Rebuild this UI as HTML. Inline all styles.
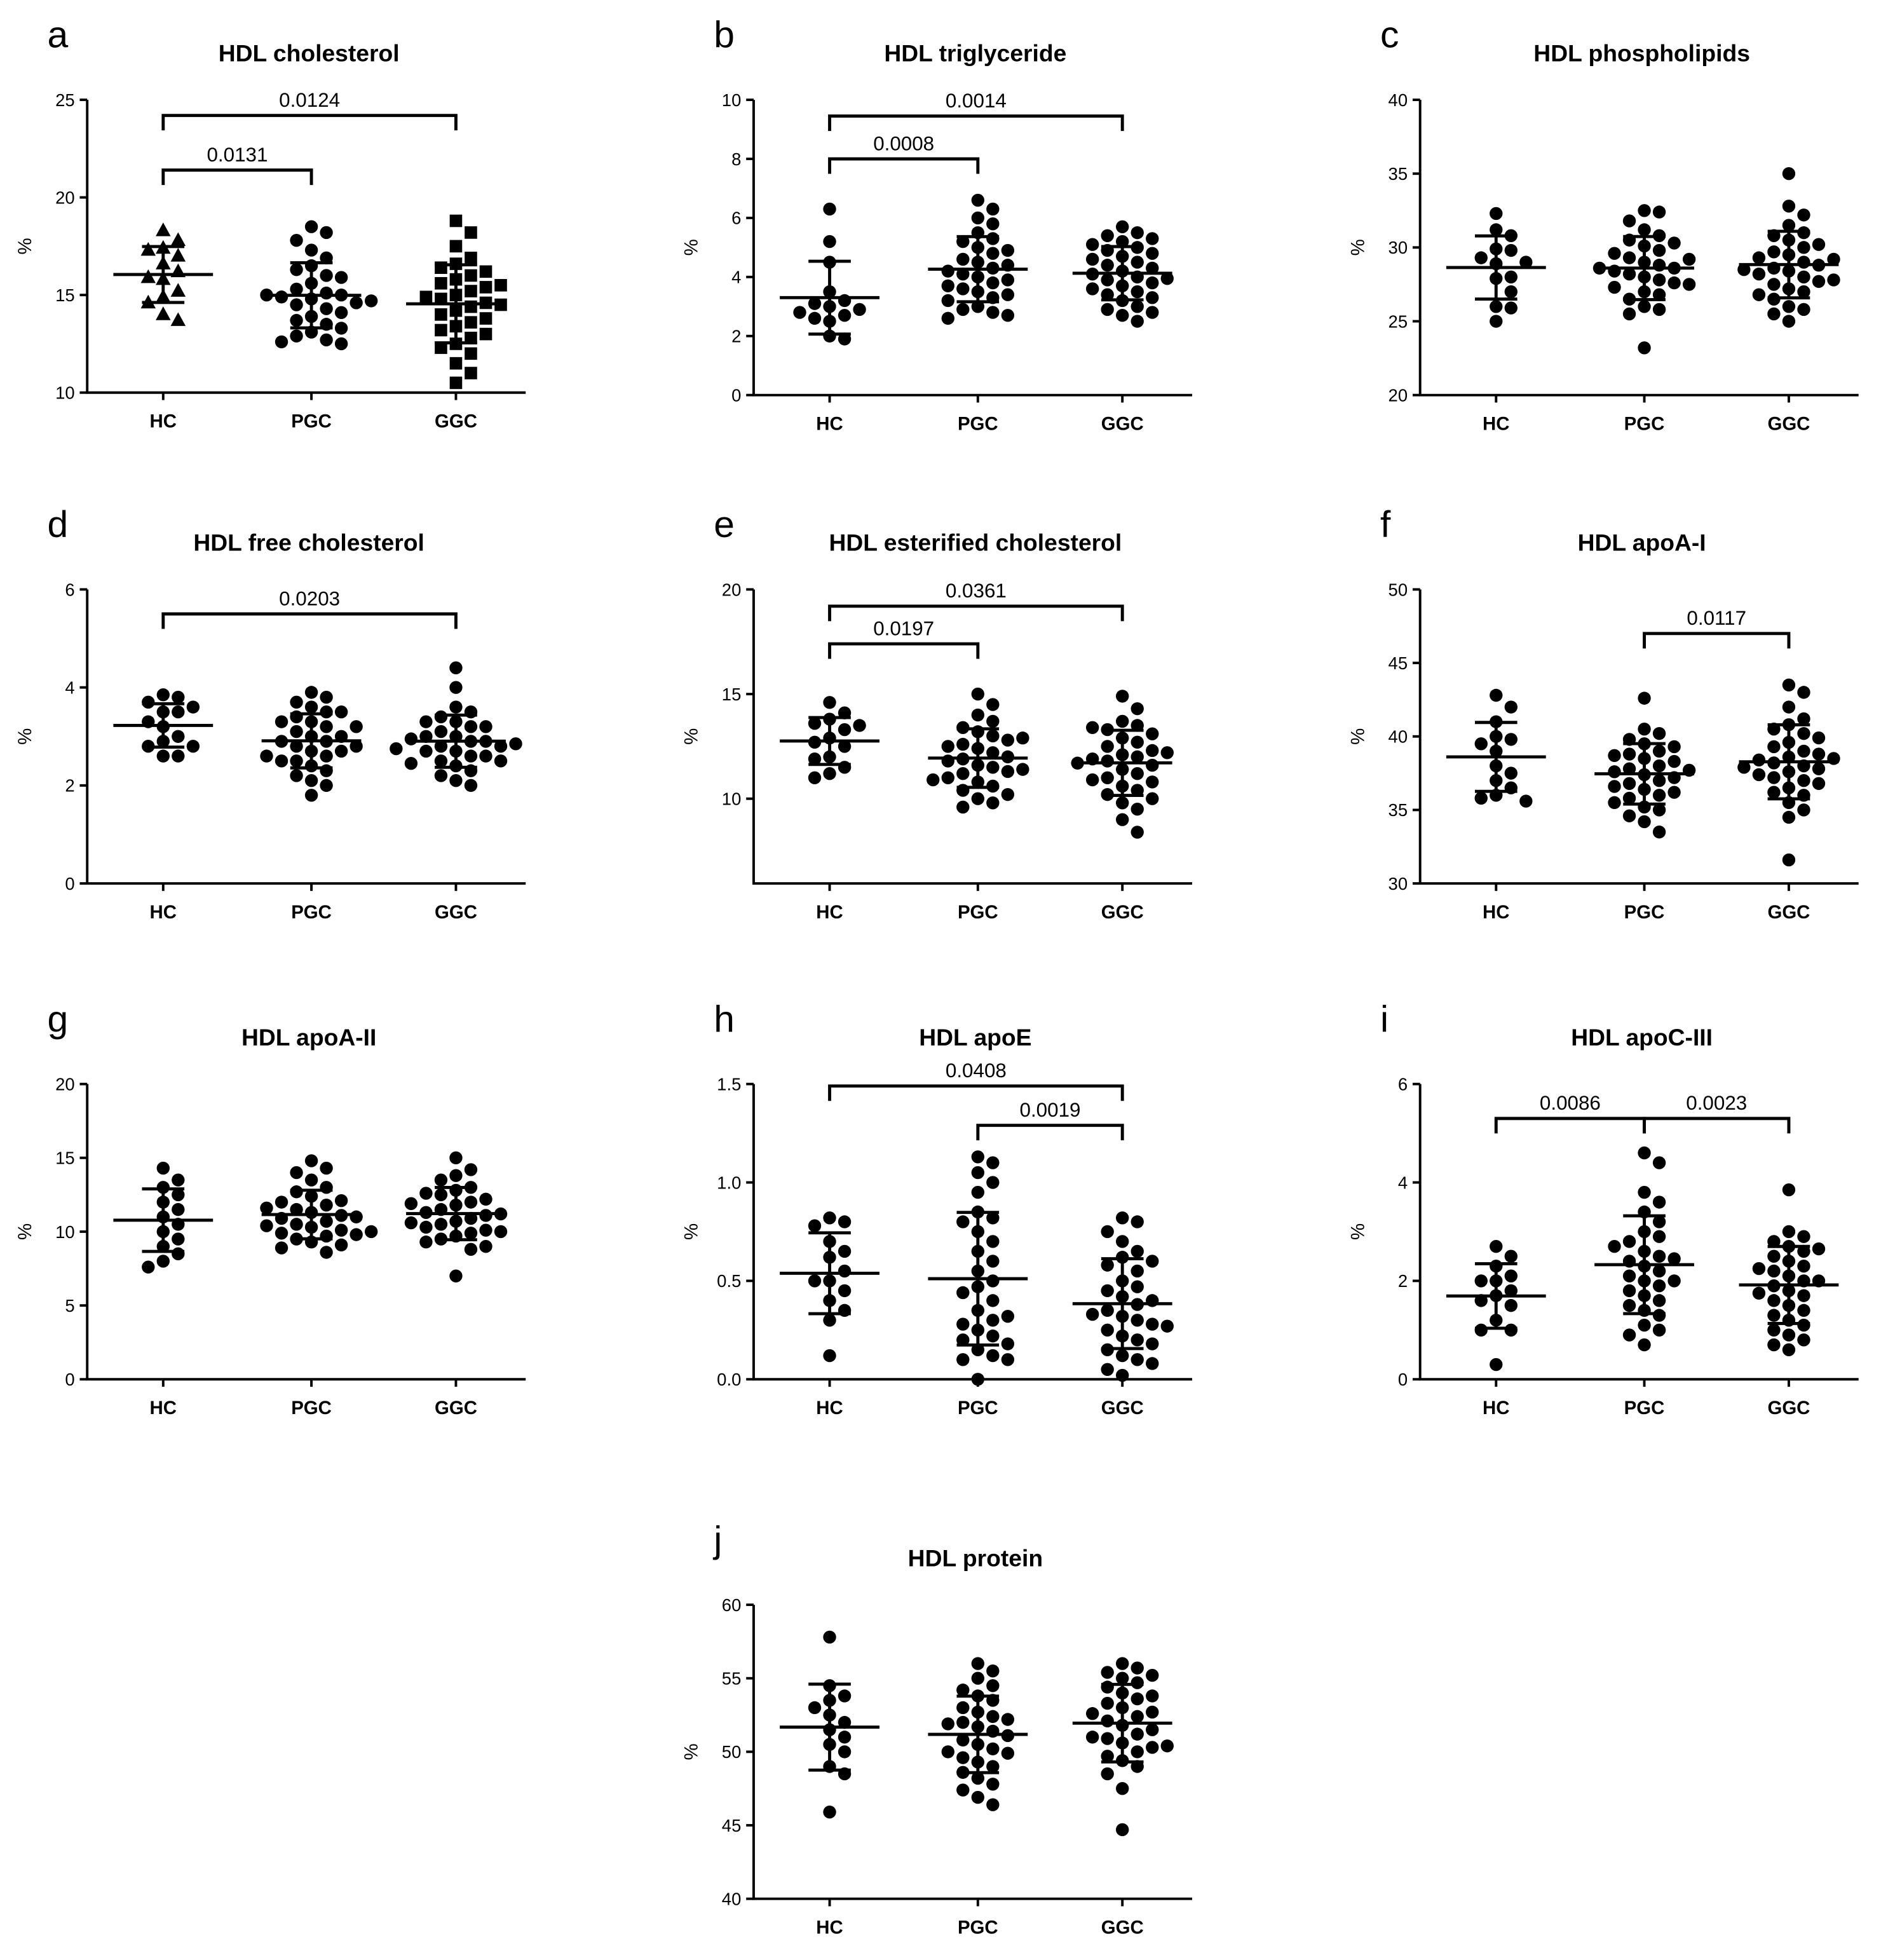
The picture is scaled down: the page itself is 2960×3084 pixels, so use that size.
<!DOCTYPE html>
<html><head><meta charset="utf-8"><style>
html,body{margin:0;padding:0;background:#fff}
svg{display:block;font-family:"Liberation Sans",Arial,sans-serif}
</style></head><body>
<svg id="fig" width="2960" height="3084" viewBox="0 0 1510 1573" xmlns="http://www.w3.org/2000/svg"></svg>
<script>
const categories = ["HC","PGC","GGC"];
// panel a
const aHC=[18.3,17.8,17.4,17.3,17.0,16.6,16.2,15.9,15.8,15.2,14.9,14.6,14.0,13.7];
const aPGC=[18.5,18.2,17.8,17.3,16.9,16.5,16.3,16.0,15.9,15.6,15.3,15.1,15.0,14.9,14.8,14.6,14.5,14.3,14.1,13.9,13.7,13.5,13.3,13.1,12.9,12.7,12.6,12.5,15.0,14.7];
const aGGC=[18.8,18.2,17.5,16.9,16.6,16.4,16.2,16.0,15.8,15.6,15.4,15.2,15.0,14.9,14.8,14.6,14.4,14.2,14.0,13.8,13.6,13.4,13.2,13.0,12.8,12.5,12.3,12.0,11.5,11.0,10.5,15.5,14.5];
// panel b
const bHC=[6.3,5.2,4.5,3.5,3.2,3.1,3.0,2.9,2.8,2.7,2.6,2.5,2.0,1.9];
const bPGC=[6.6,6.3,6.0,5.8,5.5,5.3,5.2,5.0,4.9,4.8,4.6,4.5,4.4,4.3,4.2,4.1,4.0,3.9,3.8,3.7,3.6,3.5,3.4,3.3,3.2,3.0,2.9,2.8,2.7,2.6];
const bGGC=[5.7,5.5,5.4,5.3,5.2,5.0,4.9,4.8,4.7,4.5,4.4,4.3,4.2,4.1,4.0,3.9,3.8,3.7,3.6,3.5,3.4,3.3,3.2,3.0,2.9,2.8,2.7,2.5,5.1,4.6,3.95];
// panel c
const cHC=[32.3,31.2,30.8,29.9,29.8,29.3,29.0,28.9,28.0,27.9,27.0,26.0,25.9,25.0];
const cPGC=[32.5,32.4,31.8,31.2,30.8,30.5,30.3,30.1,29.8,29.6,29.3,29.0,28.8,28.6,28.4,28.2,28.0,27.8,27.6,27.3,27.0,26.8,26.5,26.0,25.8,25.5,23.2,29.2,28.6,27.5];
const cGGC=[35.0,32.8,32.2,31.5,31.0,30.8,30.5,30.2,30.0,29.7,29.5,29.3,29.0,28.8,28.6,28.4,28.2,28.0,27.7,27.5,27.2,27.0,26.8,26.5,26.0,25.8,25.5,25.0,29.2,28.5,27.8];
// panel d
const dHC=[3.85,3.8,3.7,3.6,3.5,3.5,3.3,3.2,3.0,2.9,2.8,2.8,2.6,2.6];
const dPGC=[3.9,3.8,3.7,3.6,3.5,3.5,3.4,3.3,3.3,3.2,3.1,3.0,3.0,2.9,2.9,2.8,2.8,2.7,2.7,2.6,2.5,2.5,2.4,2.3,2.2,2.1,2.0,1.8,3.2,2.6];
const dGGC=[4.4,4.0,3.6,3.5,3.4,3.3,3.2,3.2,3.1,3.0,3.0,2.9,2.9,2.8,2.8,2.7,2.7,2.6,2.6,2.5,2.5,2.4,2.3,2.2,2.1,2.0,3.3,2.95,2.85,2.45,2.75];
// panel e
const eHC=[14.6,14.1,13.8,13.6,13.5,13.3,12.9,12.7,12.5,12.0,11.9,11.5,11.2,11.0];
const ePGC=[15.0,14.5,14.0,13.7,13.4,13.2,13.0,12.8,12.6,12.4,12.2,12.0,11.9,11.8,11.6,11.5,11.3,11.2,11.0,10.8,10.6,10.4,10.2,10.0,9.8,9.6,12.5,11.4,10.9,12.9];
const eGGC=[14.9,14.3,13.7,13.5,13.3,13.1,12.9,12.7,12.5,12.3,12.1,12.0,11.9,11.8,11.6,11.4,11.2,11.0,10.8,10.6,10.4,10.2,10.0,9.8,9.5,9.0,8.4,13.4,12.2,11.7,10.9];
// panel f
const fHC=[42.8,42.0,41.0,40.0,39.8,39.5,39.0,38.0,37.5,37.0,36.5,36.0,35.8,35.6];
const fPGC=[42.6,40.5,40.2,39.8,39.5,39.3,39.0,38.8,38.5,38.3,38.0,37.8,37.6,37.4,37.2,37.0,36.8,36.6,36.4,36.2,36.0,35.8,35.5,35.2,35.0,34.6,34.2,33.5,38.7,37.7];
const fGGC=[43.5,43.0,42.0,41.2,40.8,40.5,40.2,39.9,39.6,39.3,39.0,38.8,38.6,38.4,38.2,38.0,37.8,37.6,37.4,37.2,37.0,36.8,36.5,36.2,36.0,35.5,35.0,34.5,31.6,38.5,37.9];
// panel g
const gHC=[14.3,13.5,13.0,12.5,12.0,11.5,11.0,10.5,10.0,9.5,9.0,8.5,8.0,7.6];
const gPGC=[14.8,14.3,14.0,13.5,13.0,12.7,12.4,12.1,11.8,11.5,11.3,11.1,10.9,10.7,10.5,10.3,10.1,9.9,9.7,9.5,9.3,9.1,8.9,8.6,12.0,11.0,10.4,9.8,11.6,10.0];
const gGGC=[15.0,14.2,13.8,13.5,13.0,12.8,12.5,12.2,12.0,11.8,11.5,11.3,11.1,10.9,10.7,10.5,10.3,10.1,9.9,9.7,9.5,9.3,9.0,8.8,7.0,12.6,11.2,10.0,11.9,10.6];
// panel h
const hHC=[0.82,0.8,0.78,0.7,0.65,0.62,0.55,0.5,0.5,0.45,0.4,0.35,0.3,0.12];
const hPGC=[1.13,1.1,1.05,1.0,0.95,0.85,0.82,0.75,0.7,0.65,0.6,0.55,0.5,0.47,0.44,0.4,0.35,0.3,0.28,0.25,0.22,0.2,0.18,0.15,0.12,0.1,0.1,0.0,0.8,0.32];
const hGGC=[0.82,0.8,0.75,0.7,0.65,0.62,0.58,0.55,0.5,0.47,0.45,0.42,0.4,0.38,0.35,0.32,0.3,0.28,0.25,0.22,0.2,0.18,0.15,0.12,0.1,0.08,0.05,0.02,0.6,0.33,0.27];
// panel i
const iHC=[2.7,2.5,2.3,2.1,2.0,2.0,1.8,1.7,1.6,1.5,1.2,1.0,1.0,0.3];
const iPGC=[4.6,4.4,3.8,3.6,3.4,3.2,3.0,2.9,2.8,2.6,2.5,2.4,2.3,2.2,2.1,2.0,1.9,1.8,1.7,1.6,1.5,1.4,1.3,1.1,1.0,0.9,0.7,2.45,2.0,2.7];
const iGGC=[3.85,3.0,2.9,2.8,2.7,2.6,2.5,2.4,2.3,2.2,2.1,2.0,2.0,1.9,1.8,1.7,1.6,1.5,1.4,1.3,1.2,1.1,1.0,0.9,0.8,0.7,0.6,2.65,2.25,1.75];
// panel j
const jHC=[57.8,54.5,53.8,53.5,53.0,52.5,52.0,51.5,51.0,50.5,50.0,49.0,48.5,45.9];
const jPGC=[56.0,55.5,55.0,54.5,54.2,53.8,53.5,53.0,52.7,52.4,52.0,51.7,51.4,51.1,50.8,50.5,50.2,49.9,49.6,49.3,49.0,48.6,48.2,47.8,47.4,46.9,46.4,52.2,50.0,51.9];
const jGGC=[56.0,55.7,55.4,55.0,54.7,54.4,54.0,53.6,53.3,53.0,52.7,52.4,52.1,51.8,51.5,51.2,50.9,50.6,50.3,50.0,49.7,49.4,49.0,48.5,47.5,44.7,53.8,52.6,51.0,50.4,55.2];

const aTicks=[10,15,20,25], bTicks=[0,2,4,6,8,10], cTicks=[20,25,30,35,40], dTicks=[0,2,4,6], eTicks=[10,15,20], fTicks=[30,35,40,45,50], gTicks=[0,5,10,15,20], hTicks=[0,0.5,1.0,1.5], iTicks=[0,2,4,6], jTicks=[40,45,50,55,60];
const hTickLabels=["0.0","0.5","1.0","1.5"];
// significance: [fromIdx,toIdx,level,label]
const aSig=[[0,1,21.4,"0.0131"],[0,2,24.2,"0.0124"]];
const bSig=[[0,1,8.0,"0.0008"],[0,2,9.45,"0.0014"]];
const dSig=[[0,2,5.5,"0.0203"]];
const eSig=[[0,1,17.4,"0.0197"],[0,2,19.2,"0.0361"]];
const fSig=[[1,2,47.0,"0.0117"]];
const hSig=[[0,2,1.49,"0.0408"],[1,2,1.29,"0.0019"]];
const iSig=[[0,1,5.3,"0.0086"],[1,2,5.3,"0.0023"]];

const panels=[
 {id:"a",title:"HDL cholesterol",ax:70,top:80,bot:315,min:10,max:25,ticks:aTicks,data:[aHC,aPGC,aGGC],sig:aSig,marks:["tri","circ","sq"]},
 {id:"b",title:"HDL triglyceride",ax:605,top:80,bot:317,min:0,max:10,ticks:bTicks,data:[bHC,bPGC,bGGC],sig:bSig},
 {id:"c",title:"HDL phospholipids",ax:1140,top:80,bot:317,min:20,max:40,ticks:cTicks,data:[cHC,cPGC,cGGC],sig:[]},
 {id:"d",title:"HDL free cholesterol",ax:70,top:473,bot:709,min:0,max:6,ticks:dTicks,data:[dHC,dPGC,dGGC],sig:dSig},
 {id:"e",title:"HDL esterified cholesterol",ax:605,top:473,bot:709,min:5.95,max:20,ticks:eTicks,data:[eHC,ePGC,eGGC],sig:eSig},
 {id:"f",title:"HDL apoA-I",ax:1140,top:473,bot:709,min:30,max:50,ticks:fTicks,data:[fHC,fPGC,fGGC],sig:fSig},
 {id:"g",title:"HDL apoA-II",ax:70,top:870,bot:1107,min:0,max:20,ticks:gTicks,data:[gHC,gPGC,gGGC],sig:[]},
 {id:"h",title:"HDL apoE",ax:605,top:870,bot:1107,min:0,max:1.5,ticks:hTicks,tickLabels:hTickLabels,data:[hHC,hPGC,hGGC],sig:hSig},
 {id:"i",title:"HDL apoC-III",ax:1140,top:870,bot:1107,min:0,max:6,ticks:iTicks,data:[iHC,iPGC,iGGC],sig:iSig},
 {id:"j",title:"HDL protein",ax:605,top:1288,bot:1524,min:40,max:60,ticks:jTicks,data:[jHC,jPGC,jGGC],sig:[]}
];
const NS="http://www.w3.org/2000/svg";
const svg=document.getElementById("fig");
function mk(tag,attrs,parent){const e=document.createElementNS(NS,tag);for(const k in attrs)e.setAttribute(k,attrs[k]);parent.appendChild(e);return e;}
const catOff=[61,180,296];
const R=5.2;
panels.forEach(p=>{
  const g=mk("g",{},svg);
  
  
  const y=v=>p.bot-(v-p.min)/(p.max-p.min)*(p.bot-p.top);
  const cx=i=>p.ax+catOff[i];
  // letter & title
  const L=mk("text",{x:p.ax-32,y:p.top-42,"font-size":30,fill:"#000"},g);L.textContent=p.id;
  
  
  const T=mk("text",{x:p.ax+178,y:p.top-31,"font-size":19,"font-weight":"bold","text-anchor":"middle",fill:"#000"},g);T.textContent=p.title;
  
  
  // axes
  const ya=mk("line",{x1:p.ax,y1:p.top,x2:p.ax,y2:p.bot,stroke:"#000","stroke-width":2},g);
  
  
  const xa=mk("line",{x1:p.ax-1,y1:p.bot,x2:p.ax+352,y2:p.bot,stroke:"#000","stroke-width":2},g);
  
  
  p.ticks.forEach((t,k)=>{
    mk("line",{x1:p.ax-6,y1:y(t),x2:p.ax,y2:y(t),stroke:"#000","stroke-width":2},g);
    const tl=mk("text",{x:p.ax-10,y:y(t)+5,"font-size":14,"text-anchor":"end",fill:"#000"},g);
    tl.textContent=p.tickLabels?p.tickLabels[k]:String(t);
    
    
  });
  const yt=mk("text",{x:0,y:0,"font-size":15,"text-anchor":"middle",transform:`translate(${p.ax-45},${(p.top+p.bot)/2}) rotate(-90)`,fill:"#000"},g);
  yt.textContent="%";
  
  
  categories.forEach((c,i)=>{
    mk("line",{x1:cx(i),y1:p.bot,x2:cx(i),y2:p.bot+6,stroke:"#000","stroke-width":2},g);
    const ct=mk("text",{x:cx(i),y:p.bot+28,"font-size":15,"font-weight":"bold","text-anchor":"middle",fill:"#000"},g);
    ct.textContent=c;
    
    
  });
  // points (beeswarm)
  p.data.forEach((arr,i)=>{
    const placed=[];
    const shape=p.marks?p.marks[i]:"circ";
    arr.forEach(v=>{
      const py=y(v);let px=cx(i);
      for(let k=0;k<40;k++){
        const off=(k===0?0:(k%2?1:-1)*Math.ceil(k/2)*12);
        const tx=cx(i)+off;
        if(!placed.some(q=>Math.hypot(q[0]-tx,q[1]-py)<2*R+1)){px=tx;break;}
      }
      placed.push([px,py]);
      let m;
      if(shape==="tri") m=mk("polygon",{points:`${px},${py-6.5} ${px-6},${py+4.5} ${px+6},${py+4.5}`,fill:"#000"},g);
      else if(shape==="sq") m=mk("rect",{x:px-5,y:py-5,width:10,height:10,fill:"#000"},g);
      else m=mk("circle",{cx:px,cy:py,r:R,fill:"#000"},g);
      
      
    });
    // mean ± SD
    const mean=arr.reduce((s,v)=>s+v,0)/arr.length;
    const sd=Math.sqrt(arr.reduce((s,v)=>s+(v-mean)**2,0)/(arr.length-1));
    const eg=mk("g",{stroke:"#000","stroke-width":2.5},g);
    
    
    mk("line",{x1:cx(i)-40,y1:y(mean),x2:cx(i)+40,y2:y(mean)},eg);
    mk("line",{x1:cx(i),y1:y(mean-sd),x2:cx(i),y2:y(mean+sd)},eg);
    mk("line",{x1:cx(i)-17,y1:y(mean+sd),x2:cx(i)+17,y2:y(mean+sd)},eg);
    mk("line",{x1:cx(i)-17,y1:y(mean-sd),x2:cx(i)+17,y2:y(mean-sd)},eg);
  });
  // significance brackets
  p.sig.forEach(s=>{
    const x1=cx(s[0]),x2=cx(s[1]),ly=y(s[2]);
    const sg=mk("g",{},g);
    
    
    mk("polyline",{points:`${x1},${ly+12} ${x1},${ly} ${x2},${ly} ${x2},${ly+12}`,fill:"none",stroke:"#000","stroke-width":2.5},sg);
    const st=mk("text",{x:(x1+x2)/2,y:ly-7,"font-size":16,"text-anchor":"middle",fill:"#000"},sg);
    st.textContent=s[3];
  });
});
</script>
</body></html>
